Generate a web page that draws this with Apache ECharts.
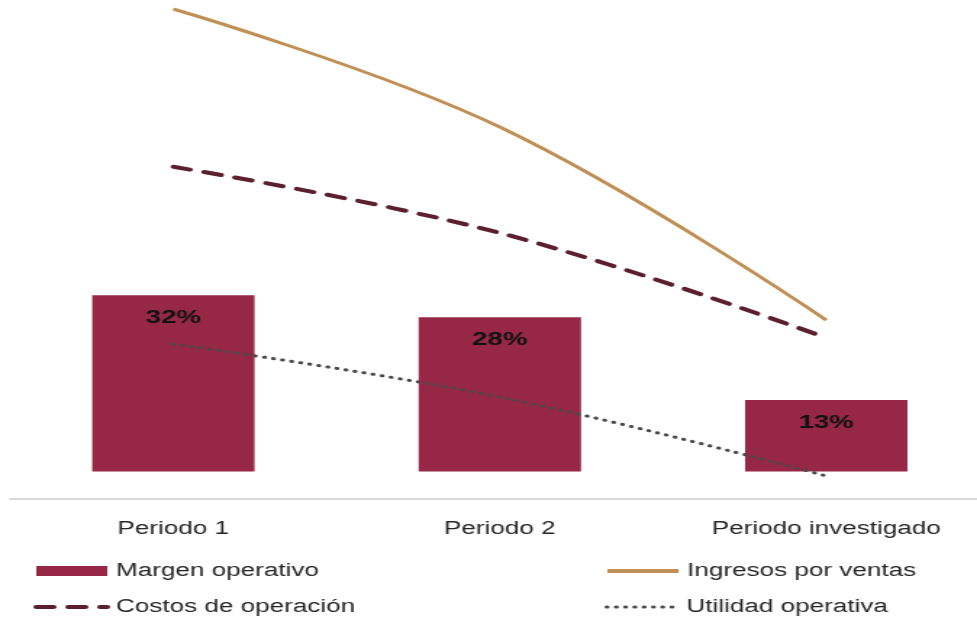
<!DOCTYPE html>
<html>
<head>
<meta charset="utf-8">
<script src="https://cdn.jsdelivr.net/npm/echarts@6/dist/echarts.min.js"></script>
<style>
html,body{margin:0;padding:0;background:#fff;overflow:hidden;}
#chart{width:674px;height:621px;transform:scaleX(1.4496);transform-origin:0 0;}
</style>
</head>
<body>
<div id="chart"></div>
<script>
const categories = ['Periodo 1', 'Periodo 2', 'Periodo investigado'];
const margenOperativo = [32, 28, 13];
const ingresosVentas = [100, 75.9, 36.5];
const costosOperacion = [67.8, 54.3, 32.9];
const utilidadOperativa = [31.6, 20.8, 4.7];

const FONT = '"Liberation Sans", Arial, sans-serif';
const chart = echarts.init(document.getElementById('chart'), null, {renderer: 'canvas'});

function legendAt(name, left, top, icon, lineWidth) {
  const l = {
    data: [name], left: left, top: top, orient: 'horizontal',
    itemWidth: 49, itemHeight: 10, itemGap: 0, padding: 0,
    selectedMode: false,
    textStyle: {fontFamily: FONT, fontSize: 18, color: '#262626', padding: [0, 0, 0, 1]}
  };
  if (icon) l.icon = icon;
  else { l.itemStyle = {opacity: 0}; l.lineStyle = {width: lineWidth}; }
  return l;
}

chart.setOption({
  animation: false,
  backgroundColor: '#fff',
  grid: {left: 7, width: 675.6, top: 9, bottom: 122, containLabel: false, outerBoundsMode: 'none'},
  legend: [
    legendAt('Margen operativo', 25, 562, 'rect'),
    legendAt('Ingresos por ventas', 417, 562, null, 4),
    legendAt('Costos de operación', 23, 598, null, 4),
    legendAt('Utilidad operativa', 417, 598, null, 3)
  ],
  xAxis: {
    type: 'category', data: categories, boundaryGap: true,
    axisTick: {show: false},
    axisLine: {onZero: false, lineStyle: {color: '#d9d9d9', width: 2}},
    axisLabel: {fontFamily: FONT, fontSize: 18, color: '#262626', margin: 21}
  },
  yAxis: [
    {type: 'value', min: -5, max: 84, show: false, splitLine: {show: false}},
    {type: 'value', min: 0, max: 100, show: false, splitLine: {show: false}}
  ],
  series: [
    {
      name: 'Margen operativo', type: 'bar', yAxisIndex: 0, data: margenOperativo,
      barWidth: 112,
      itemStyle: {color: '#962747'},
      label: {show: true, position: 'insideTop', distance: 13,
        formatter: '{c}%', fontFamily: FONT, fontSize: 19, fontWeight: 'bold', color: '#111'},
      z: 1
    },
    {
      name: 'Ingresos por ventas', type: 'line', yAxisIndex: 1, data: ingresosVentas,
      smooth: 0.4, symbol: 'none',
      lineStyle: {color: '#bf8f55', width: 3},
      itemStyle: {color: '#bf8f55'}, z: 3
    },
    {
      name: 'Costos de operación', type: 'line', yAxisIndex: 1, data: costosOperacion,
      smooth: 0.4, symbol: 'none',
      lineStyle: {color: '#5c1f2e', width: 4, type: [12, 10], cap: 'round'},
      itemStyle: {color: '#5c1f2e'}, z: 3
    },
    {
      name: 'Utilidad operativa', type: 'line', yAxisIndex: 1, data: utilidadOperativa,
      smooth: 0.4, symbol: 'none',
      lineStyle: {color: '#4a4a4a', width: 3, type: [0.5, 5.9], cap: 'round'},
      itemStyle: {color: '#4a4a4a'}, z: 3
    }
  ]
});
</script>
</body>
</html>
